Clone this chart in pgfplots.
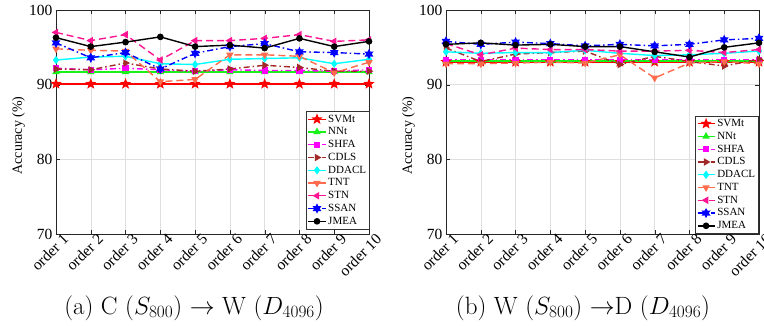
\documentclass[border=0pt]{standalone}
\usepackage{fontspec}
\usepackage{pgfplots}
\pgfplotsset{compat=1.18}
\newfontfamily\tnr{Liberation Serif}
\definecolor{cSVMt}{rgb}{1,0,0}
\definecolor{cNNt}{rgb}{0.1,0.95,0.1}
\definecolor{cSHFA}{rgb}{1,0,1}
\definecolor{cCDLS}{rgb}{0.64,0.16,0.16}
\definecolor{cDDACL}{rgb}{0,1,1}
\definecolor{cTNT}{rgb}{1,0.42,0.3}
\definecolor{cSTN}{rgb}{1,0.08,0.58}
\definecolor{cSSAN}{rgb}{0,0,1}
\definecolor{cJMEA}{rgb}{0,0,0}
\pgfdeclareplotmark{fstar}{%
  \pgfpathmoveto{\pgfpointpolar{90}{1.3\pgfplotmarksize}}%
  \pgfpathlineto{\pgfpointpolar{126}{0.55\pgfplotmarksize}}%
  \pgfpathlineto{\pgfpointpolar{162}{1.3\pgfplotmarksize}}%
  \pgfpathlineto{\pgfpointpolar{198}{0.55\pgfplotmarksize}}%
  \pgfpathlineto{\pgfpointpolar{234}{1.3\pgfplotmarksize}}%
  \pgfpathlineto{\pgfpointpolar{270}{0.55\pgfplotmarksize}}%
  \pgfpathlineto{\pgfpointpolar{306}{1.3\pgfplotmarksize}}%
  \pgfpathlineto{\pgfpointpolar{342}{0.55\pgfplotmarksize}}%
  \pgfpathlineto{\pgfpointpolar{18}{1.3\pgfplotmarksize}}%
  \pgfpathlineto{\pgfpointpolar{54}{0.55\pgfplotmarksize}}%
  \pgfpathclose\pgfusepathqfillstroke}
\pgfdeclareplotmark{hexa}{%
  \pgfpathmoveto{\pgfpointpolar{90}{1.2\pgfplotmarksize}}%
  \pgfpathlineto{\pgfpointpolar{120}{0.65\pgfplotmarksize}}%
  \pgfpathlineto{\pgfpointpolar{150}{1.2\pgfplotmarksize}}%
  \pgfpathlineto{\pgfpointpolar{180}{0.65\pgfplotmarksize}}%
  \pgfpathlineto{\pgfpointpolar{210}{1.2\pgfplotmarksize}}%
  \pgfpathlineto{\pgfpointpolar{240}{0.65\pgfplotmarksize}}%
  \pgfpathlineto{\pgfpointpolar{270}{1.2\pgfplotmarksize}}%
  \pgfpathlineto{\pgfpointpolar{300}{0.65\pgfplotmarksize}}%
  \pgfpathlineto{\pgfpointpolar{330}{1.2\pgfplotmarksize}}%
  \pgfpathlineto{\pgfpointpolar{0}{0.65\pgfplotmarksize}}%
  \pgfpathlineto{\pgfpointpolar{30}{1.2\pgfplotmarksize}}%
  \pgfpathlineto{\pgfpointpolar{60}{0.65\pgfplotmarksize}}%
  \pgfpathclose\pgfusepathqfillstroke}
\pgfplotsset{
  myaxis/.style={
    scale only axis, width=313pt, height=224pt,
    xmin=1, xmax=10, ymin=70, ymax=100,
    xtick={1,...,10},
    xticklabels={order 1,order 2,order 3,order 4,order 5,order 6,order 7,order 8,order 9,order 10},
    ytick={70,80,90,100},
    xticklabel style={rotate=45, anchor=north east, font=\tnr\fontsize{15.5}{18}\selectfont, inner sep=1pt, xshift=6pt, yshift=-2pt},
    yticklabel style={font=\tnr\fontsize{15.5}{18}\selectfont},
    /pgf/number format/assume math mode=true,
    ylabel={Accuracy (\%)},
    ylabel style={font=\tnr\fontsize{14}{16}\selectfont, at={(rel axis cs:-0.12,0.44)}, anchor=center},
    grid=major, major grid style={gray!25, line width=0.5pt},
    axis line style={black!85, line width=0.6pt},
    tick align=inside, major tick length=4pt, tick style={black!85},
    legend cell align=left,
    legend style={font=\tnr\fontsize{11}{12.5}\selectfont, draw=black!80, fill=white, inner sep=1.5pt, row sep=0pt, line width=0.6pt},
    every axis plot/.append style={line width=1.4pt, mark size=3pt},
  },
  sSVMt/.style={color=cSVMt, solid, mark=fstar, mark options={solid, fill=cSVMt}},
  sNNt/.style={color=cNNt, solid, mark=triangle*, mark options={solid, fill=cNNt}},
  sSHFA/.style={color=cSHFA, dash pattern=on 6pt off 3pt on 1.5pt off 3pt, mark=square*, mark size=2.4pt, mark options={solid, fill=cSHFA}},
  sCDLS/.style={color=cCDLS, dash pattern=on 6pt off 3pt on 1.5pt off 3pt, mark=triangle*, mark options={solid, fill=cCDLS, rotate=-90}},
  sDDACL/.style={color=cDDACL, solid, mark=diamond*, mark options={solid, fill=cDDACL}},
  sTNT/.style={color=cTNT, dash pattern=on 7pt off 4pt, mark=triangle*, mark options={solid, fill=cTNT, rotate=180}},
  sSTN/.style={color=cSTN, dash pattern=on 7pt off 4pt, mark=triangle*, mark options={solid, fill=cSTN, rotate=90}},
  sSSAN/.style={color=cSSAN, dash pattern=on 6pt off 3pt on 1.5pt off 3pt, mark=hexa, mark options={solid, fill=cSSAN}},
  sJMEA/.style={color=cJMEA, solid, mark=*, mark size=2.6pt, mark options={solid, fill=cJMEA}},
}
\begin{document}
\begin{tikzpicture}
\useasboundingbox (0pt,0pt) rectangle (764pt,325pt);
\begin{axis}[myaxis, at={(56pt,91pt)}, anchor=south west,
  legend style={at={(rel axis cs:1.003,0.02)}, anchor=south east}]
\addplot[sSVMt] coordinates {(1,90.1)(2,90.1)(3,90.1)(4,90.1)(5,90.1)(6,90.1)(7,90.1)(8,90.1)(9,90.1)(10,90.1)};
\addplot[sNNt] coordinates {(1,91.7)(2,91.7)(3,91.7)(4,91.7)(5,91.7)(6,91.7)(7,91.7)(8,91.7)(9,91.7)(10,91.7)};
\addplot[sSHFA] coordinates {(1,92.2)(2,92.0)(3,92.2)(4,92.0)(5,91.8)(6,92.0)(7,91.9)(8,91.9)(9,91.8)(10,92.0)};
\addplot[sCDLS] coordinates {(1,92.1)(2,92.0)(3,92.9)(4,92.1)(5,91.8)(6,92.1)(7,92.6)(8,92.3)(9,91.8)(10,91.8)};
\addplot[sDDACL] coordinates {(1,93.3)(2,93.7)(3,93.8)(4,92.8)(5,92.7)(6,93.4)(7,93.5)(8,93.6)(9,92.8)(10,93.4)};
\addplot[sTNT] coordinates {(1,94.8)(2,94.6)(3,94.5)(4,90.4)(5,90.7)(6,94.0)(7,94.0)(8,93.8)(9,91.6)(10,93.0)};
\addplot[sSTN] coordinates {(1,97.0)(2,95.9)(3,96.7)(4,93.3)(5,95.9)(6,95.9)(7,96.2)(8,96.7)(9,95.8)(10,96.0)};
\addplot[sSSAN] coordinates {(1,95.6)(2,93.6)(3,94.3)(4,92.1)(5,94.2)(6,95.1)(7,95.5)(8,94.4)(9,94.3)(10,94.1)};
\addplot[sJMEA] coordinates {(1,96.3)(2,95.1)(3,95.7)(4,96.4)(5,95.1)(6,95.3)(7,94.9)(8,96.2)(9,95.1)(10,95.8)};
\legend{SVMt,NNt,SHFA,CDLS,DDACL,TNT,STN,SSAN,JMEA}
\end{axis}
\begin{axis}[myaxis, at={(446pt,91pt)}, anchor=south west,
  legend style={at={(rel axis cs:1,0)}, anchor=south east}]
\addplot[sSVMt] coordinates {(1,93.05)(2,93.05)(3,93.05)(4,93.05)(5,93.05)(6,93.05)(7,93.05)(8,93.05)(9,93.05)(10,93.05)};
\addplot[sNNt] coordinates {(1,93.15)(2,93.15)(3,93.15)(4,93.15)(5,93.15)(6,93.15)(7,93.15)(8,93.15)(9,93.15)(10,93.15)};
\addplot[sSHFA] coordinates {(1,93.35)(2,93.35)(3,93.35)(4,93.35)(5,93.35)(6,93.35)(7,93.35)(8,93.35)(9,93.35)(10,93.35)};
\addplot[sCDLS] coordinates {(1,94.9)(2,93.1)(3,94.1)(4,94.3)(5,94.5)(6,92.7)(7,93.8)(8,93.1)(9,92.5)(10,93.4)};
\addplot[sDDACL] coordinates {(1,94.4)(2,94.2)(3,94.3)(4,94.3)(5,94.6)(6,94.2)(7,93.9)(8,94.0)(9,94.2)(10,94.5)};
\addplot[sTNT] coordinates {(1,92.8)(2,92.8)(3,92.9)(4,93.0)(5,92.9)(6,94.0)(7,90.9)(8,92.9)(9,93.1)(10,92.8)};
\addplot[sSTN] coordinates {(1,95.5)(2,94.0)(3,94.9)(4,94.7)(5,94.7)(6,94.5)(7,94.5)(8,94.6)(9,94.3)(10,94.7)};
\addplot[sSSAN] coordinates {(1,95.8)(2,95.4)(3,95.7)(4,95.5)(5,95.2)(6,95.4)(7,95.2)(8,95.4)(9,96.0)(10,96.2)};
\addplot[sJMEA] coordinates {(1,95.4)(2,95.6)(3,95.3)(4,95.4)(5,95.1)(6,95.1)(7,94.4)(8,93.7)(9,95.0)(10,95.6)};
\legend{SVMt,NNt,SHFA,CDLS,DDACL,TNT,STN,SSAN,JMEA}
\end{axis}
\node[font=\fontsize{25}{29}\selectfont, anchor=center] at (194pt,17pt) {(a) C ($S_{800}$) $\rightarrow$ W ($D_{4096}$)};
\node[font=\fontsize{25}{29}\selectfont, anchor=center] at (583pt,17pt) {(b) W ($S_{800}$) $\rightarrow$D ($D_{4096}$)};
\end{tikzpicture}
\end{document}
